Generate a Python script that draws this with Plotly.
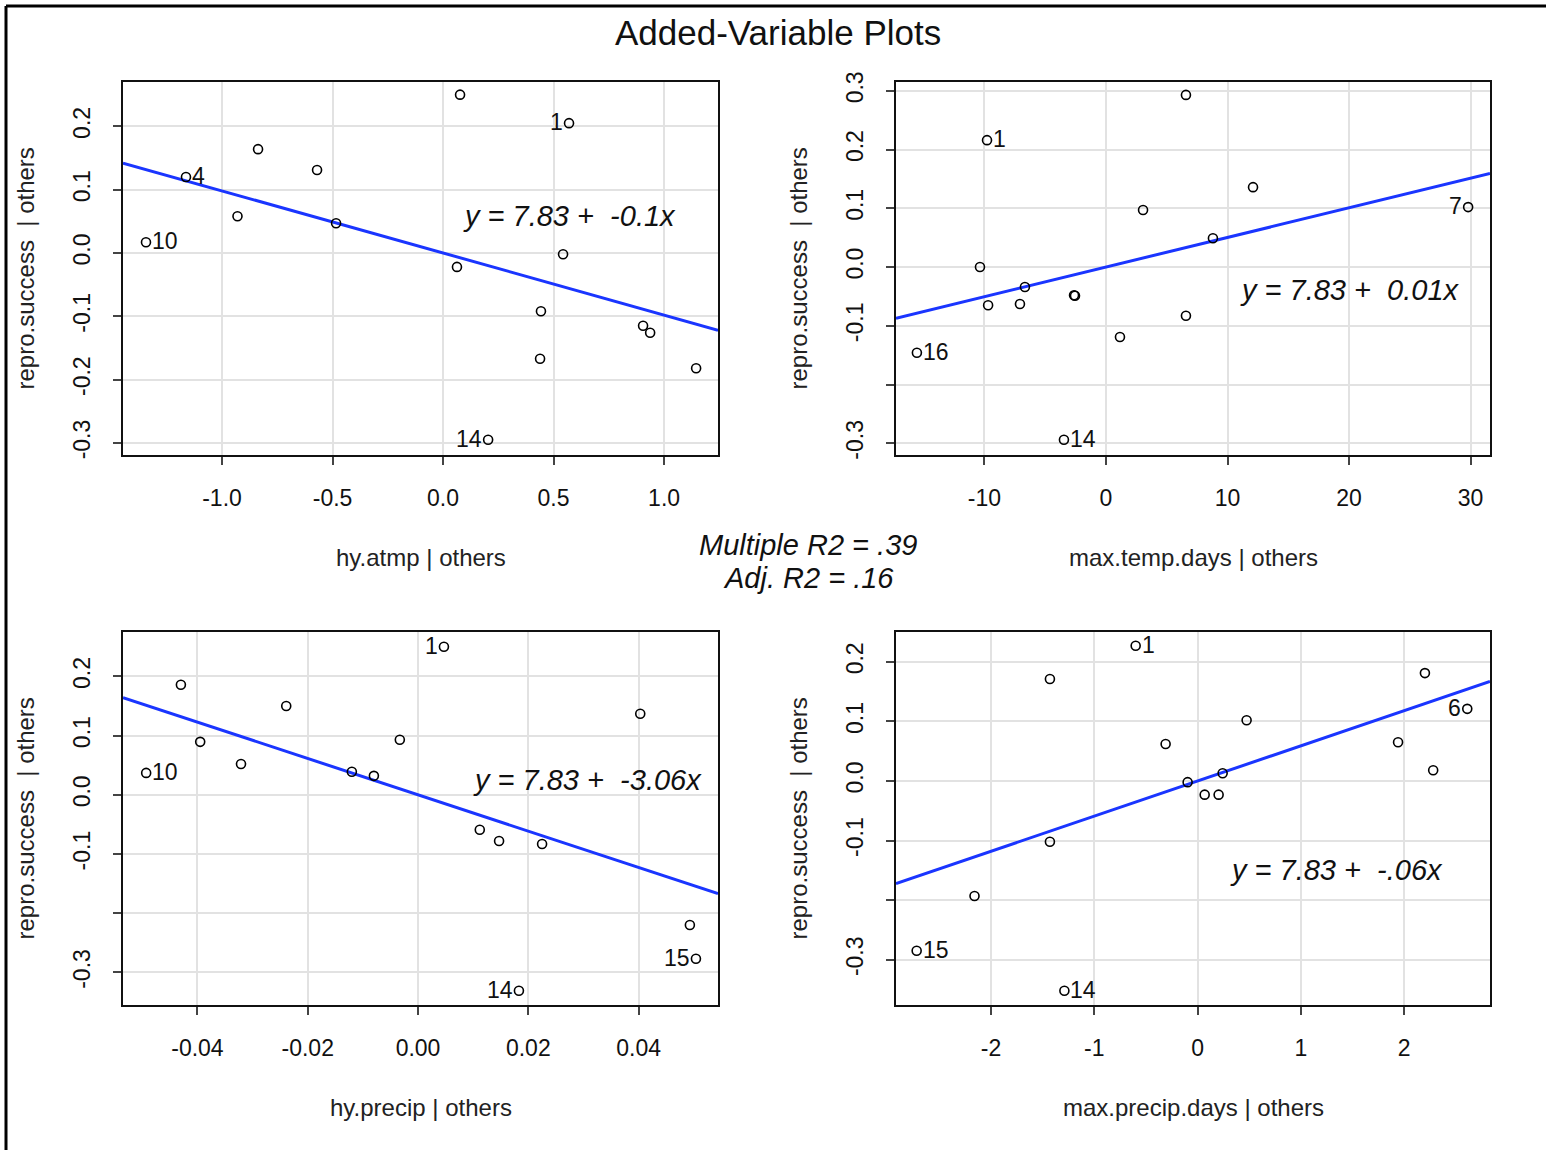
import plotly.graph_objects as go

# ---------------- data ----------------
# panel 1: hy.atmp | others
x_atmp = [0.57, -1.163, -1.344, 0.204, 0.077, -0.837, -0.57, -0.93, -0.484, 0.063, 0.543, 0.443, 0.439, 0.905, 0.937, 1.145]
y_atmp = [0.205, 0.12, 0.017, -0.295, 0.25, 0.164, 0.131, 0.058, 0.047, -0.022, -0.002, -0.092, -0.167, -0.115, -0.126, -0.182]
lab_atmp = ["1", "4", "10", "14"] + [""] * 12

# panel 2: max.temp.days | others
x_temp = [-9.79, 29.8, -15.56, -3.46, 6.58, 12.1, 3.05, 8.8, -10.37, -6.67, -9.7, -7.08, -2.63, -2.55, 1.15, 6.58]
y_temp = [0.216, 0.102, -0.146, -0.294, 0.293, 0.136, 0.097, 0.049, 0.0, -0.034, -0.065, -0.063, -0.048, -0.049, -0.119, -0.083]
lab_temp = ["1", "7", "16", "14"] + [""] * 12

# panel 3: hy.precip | others
x_precip = [0.0047, -0.0493, 0.0504, 0.0183, -0.043, -0.0239, 0.0403, -0.0395, -0.0033, -0.0321, -0.012, -0.008, 0.0112, 0.0147, 0.0225, 0.0493]
y_precip = [0.25, 0.037, -0.277, -0.331, 0.186, 0.150, 0.137, 0.0895, 0.093, 0.052, 0.039, 0.032, -0.059, -0.078, -0.083, -0.22]
lab_precip = ["1", "10", "15", "14"] + [""] * 12

# panel 4: max.precip.days | others
x_pdays = [-0.60, 2.61, -2.72, -1.29, -1.43, 2.20, 0.474, -0.31, 1.94, 2.28, -0.097, 0.242, 0.068, 0.203, -1.43, -2.16]
y_pdays = [0.227, 0.121, -0.285, -0.352, 0.171, 0.181, 0.102, 0.062, 0.065, 0.018, -0.002, 0.013, -0.023, -0.023, -0.102, -0.193]
lab_pdays = ["1", "6", "15", "14"] + [""] * 12

slopes = [-0.098, 0.00504, -3.07, 0.059]
equations = ["y = 7.83 +\u00a0 -0.1x", "y = 7.83 +\u00a0 0.01x", "y = 7.83 +\u00a0 -3.06x", "y = 7.83 +\u00a0 -.06x"]
x_titles = ["hy.atmp | others", "max.temp.days | others", "hy.precip | others", "max.precip.days | others"]
y_title = "repro.success\u00a0 | others"
main_title = "Added-Variable Plots"
r2_lines = ["Multiple R2 = .39", "Adj. R2 = .16"]

x_tickvals = [[-1.0, -0.5, 0.0, 0.5, 1.0], [-10, 0, 10, 20, 30], [-0.04, -0.02, 0.0, 0.02, 0.04], [-2, -1, 0, 1, 2]]
x_ticktext = [["-1.0", "-0.5", "0.0", "0.5", "1.0"], ["-10", "0", "10", "20", "30"],
              ["-0.04", "-0.02", "0.00", "0.02", "0.04"], ["-2", "-1", "0", "1", "2"]]
y_tickvals = [[-0.3, -0.2, -0.1, 0.0, 0.1, 0.2], [-0.3, -0.2, -0.1, 0.0, 0.1, 0.2, 0.3],
              [-0.3, -0.2, -0.1, 0.0, 0.1, 0.2], [-0.3, -0.2, -0.1, 0.0, 0.1, 0.2]]
y_ticktext = [["-0.3", "-0.2", "-0.1", "0.0", "0.1", "0.2"], ["-0.3", "", "-0.1", "0.0", "0.1", "0.2", "0.3"],
              ["-0.3", "", "-0.1", "0.0", "0.1", "0.2"], ["-0.3", "", "-0.1", "0.0", "0.1", "0.2"]]

# ---------------- layout geometry ----------------
W, H = 1546, 1150
def px(v):
    return v / W
def py(v):
    return 1 - v / H

x_ranges = [[-1.448, 1.244], [-17.28, 31.6], [-0.0535, 0.0544], [-2.92, 2.83]]
y_ranges = [[-0.319, 0.270], [-0.320, 0.315], [-0.355, 0.275], [-0.376, 0.250]]
boxes = [(123, 718, 82, 455), (896, 1490, 82, 455), (123, 718, 632, 1005), (896, 1490, 632, 1005)]
label_sides = [["left", "right", "right", "left"], ["right", "left", "right", "right"],
               ["left", "right", "left", "left"], ["right", "left", "right", "right"]]
eq_pos = [(0.751, 0.641), (0.764, 0.442), (0.781, 0.603), (0.742, 0.362)]

panels = [(x_atmp, y_atmp, lab_atmp), (x_temp, y_temp, lab_temp),
          (x_precip, y_precip, lab_precip), (x_pdays, y_pdays, lab_pdays)]

FONT = "Liberation Sans, Arial, sans-serif"
fig = go.Figure()
annotations = []

for i, (xs, ys, labs) in enumerate(panels):
    k = "" if i == 0 else str(i + 1)
    xa, ya = "x" + k, "y" + k
    # regression line
    xr = x_ranges[i]
    fig.add_trace(go.Scatter(x=[xr[0], xr[1]], y=[slopes[i] * xr[0], slopes[i] * xr[1]],
                             mode="lines", line=dict(color="#1a35ff", width=3),
                             xaxis=xa, yaxis=ya, showlegend=False, hoverinfo="skip"))
    # points
    fig.add_trace(go.Scatter(x=xs, y=ys, mode="markers",
                             marker=dict(symbol="circle-open", size=9, color="black", line=dict(width=1.6)),
                             xaxis=xa, yaxis=ya, showlegend=False))
    # point labels
    li = 0
    for xv, yv, lb in zip(xs, ys, labs):
        if lb:
            side = label_sides[i][li]
            li += 1
            annotations.append(dict(x=xv, y=yv, xref=xa, yref=ya, text=lb, showarrow=False,
                                    xanchor="left" if side == "right" else "right", yanchor="middle",
                                    xshift=4 if side == "right" else -4, yshift=1,
                                    font=dict(size=23, color="#111", family=FONT)))
    # equation
    annotations.append(dict(x=eq_pos[i][0], y=eq_pos[i][1], xref=xa + " domain", yref=ya + " domain",
                            text="<i>" + equations[i] + "</i>", showarrow=False,
                            xanchor="center", yanchor="middle",
                            font=dict(size=29, color="#111", family=FONT)))
    x0, x1, y0, y1 = boxes[i]
    axis_common = dict(showline=True, linecolor="#111", linewidth=1.6, mirror=True,
                       showgrid=True, gridcolor="#e2e2e2", gridwidth=2, zeroline=False,
                       ticks="outside", ticklen=8, tickwidth=1.5, tickcolor="#444",
                       automargin=False,
                       tickfont=dict(size=23, color="#111", family=FONT))
    fig.update_layout(**{
        ("xaxis" + k): dict(domain=[px(x0), px(x1)], range=x_ranges[i], anchor=ya,
                            tickvals=x_tickvals[i], ticktext=x_ticktext[i],
                            ticklabelstandoff=14, **axis_common),
        ("yaxis" + k): dict(domain=[py(y1), py(y0)], range=y_ranges[i], anchor=xa,
                            tickvals=y_tickvals[i], ticktext=y_ticktext[i], tickangle=-90,
                            ticklabelstandoff=14, **axis_common),
    })
    # axis titles
    annotations.append(dict(x=px((x0 + x1) / 2), y=py(y1 + 102), xref="paper", yref="paper",
                            text=x_titles[i], showarrow=False, xanchor="center", yanchor="middle",
                            font=dict(size=24, color="#222", family=FONT)))
    annotations.append(dict(x=px(x0 - 98), y=py((y0 + y1) / 2), xref="paper", yref="paper",
                            text=y_title, showarrow=False, textangle=-90,
                            xanchor="center", yanchor="middle",
                            font=dict(size=24, color="#222", family=FONT)))

# main title and R2 text
annotations.append(dict(x=px(778), y=py(33), xref="paper", yref="paper", text=main_title,
                        showarrow=False, xanchor="center", yanchor="middle",
                        font=dict(size=35, color="#111", family=FONT)))
for j, t in enumerate(r2_lines):
    annotations.append(dict(x=px(808), y=py(545 + 33 * j), xref="paper", yref="paper",
                            text="<i>" + t + "</i>", showarrow=False,
                            xanchor="center", yanchor="middle",
                            font=dict(size=29, color="#111", family=FONT)))

shapes = [
    dict(type="line", xref="paper", yref="paper", x0=px(6), x1=px(6), y0=py(6), y1=py(1150),
         line=dict(color="black", width=3)),
    dict(type="line", xref="paper", yref="paper", x0=px(6), x1=px(1546), y0=py(6), y1=py(6),
         line=dict(color="black", width=3)),
]

fig.update_layout(width=W, height=H, margin=dict(l=0, r=0, t=0, b=0, pad=0, autoexpand=False),
                  paper_bgcolor="white", plot_bgcolor="white",
                  annotations=annotations, shapes=shapes, showlegend=False,
                  font=dict(family=FONT))

fig.write_html("out.html", config={"displayModeBar": False},
               post_script="document.body.style.margin='0';document.body.style.overflow='hidden';")
